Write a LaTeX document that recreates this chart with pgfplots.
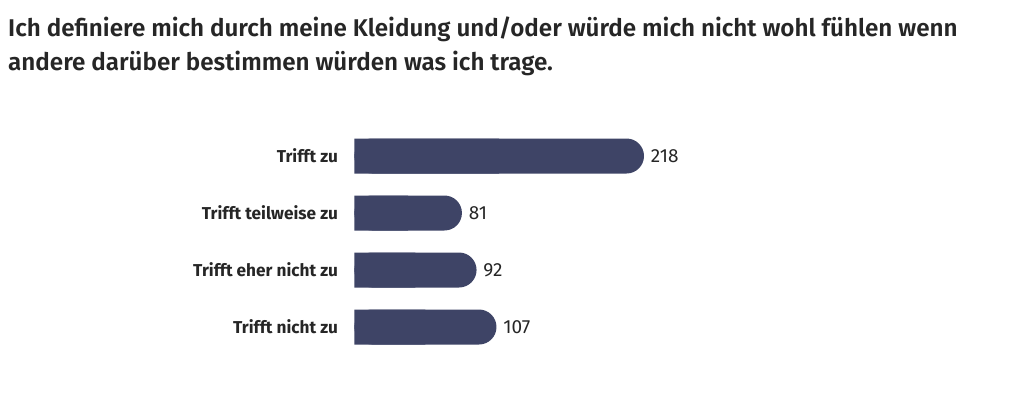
\documentclass[border=0pt]{standalone}
\usepackage{fontspec}
\setmainfont{Fira Sans}[BoldFont={Fira Sans SemiBold}]
\newfontfamily\labfont{Fira Sans}[UprightFont={Fira Sans Bold}]
\usepackage{pgfplots}
\usepackage{pgfplotstable}
\pgfplotsset{compat=1.18}
\definecolor{barc}{HTML}{3E4466}
\definecolor{txt}{HTML}{262626}
\pgfplotstableread{
y v
0 218
1 81
2 92
3 107
}\data
\begin{document}
\begin{tikzpicture}[x=1pt,y=1pt]
\path[use as bounding box] (0,0) rectangle (1024,394);
\node[anchor=base west,inner sep=0pt,text=txt,font=\fontsize{24.2}{28}\selectfont\bfseries] at (8,{394-37}) {Ich definiere mich durch meine Kleidung und/oder würde mich nicht wohl fühlen wenn};
\node[anchor=base west,inner sep=0pt,text=txt,font=\fontsize{24.2}{28}\selectfont\bfseries] at (8,{394-71}) {andere darüber bestimmen würden was ich trage.};
\begin{axis}[
  at={(354.3pt,38.5pt)}, anchor=south west,
  scale only axis, width=289.7pt, height=228pt,
  xmin=0, xmax=218, ymin=-0.5, ymax=3.5, y dir=reverse,
  axis line style={draw=none}, tick style={draw=none},
  xtick=\empty, ytick={0,1,2,3},
  yticklabels={Trifft zu,Trifft teilweise zu,Trifft eher nicht zu,Trifft nicht zu},
  yticklabel style={font=\fontsize{17.2}{20}\labfont, text=txt, inner sep=0pt, xshift=-12pt},
  xbar, bar width=35pt, clip=false,
  /pgf/number format/assume math mode=true,
]
\addplot[fill=barc, draw=none, rounded corners=17.5pt, bar shift=0pt,
  nodes near coords, point meta=explicit,
  every node near coord/.style={anchor=west, inner sep=0pt, xshift=6.7pt, text=txt, font=\fontsize{19}{22}\selectfont}]
  table[x=v, y=y, meta=v] {\data};
\addplot[fill=barc, draw=none, bar shift=0pt] table[x expr=\thisrow{v}*0.5, y=y] {\data};
\end{axis}
\end{tikzpicture}
\end{document}
